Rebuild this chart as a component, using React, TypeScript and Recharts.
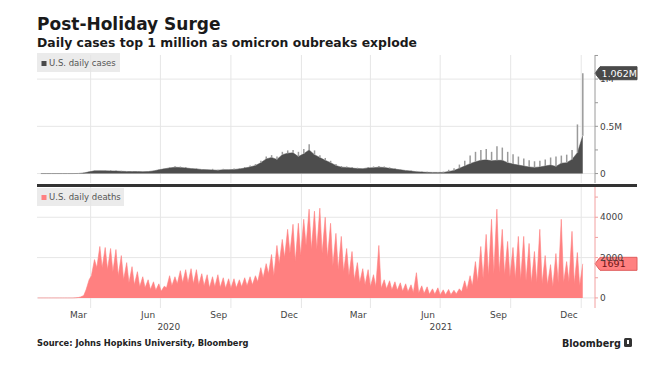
import React from 'react';
import { ComposedChart, Area, Bar, XAxis, YAxis, CartesianGrid, ReferenceLine } from 'recharts';

// x positions are days since 22 Jan 2020, the first day in the series
const START = Date.UTC(2020, 0, 22);
const dayOf = (iso: string) => Math.round((Date.parse(iso + 'T00:00:00Z') - START) / 86400000);

// one entry per week (weeks starting Wed 22 Jan 2020)
// cases in thousands: typical daily level and the week's highest day
const casesBase = [
  0, 0, 0, 0, 0, 0, 0, 1, 6, 18,
  29, 30, 29, 28, 27, 24, 22, 21, 21, 20,
  21, 28, 40, 50, 60, 67, 64, 59, 53, 49,
  43, 41, 38, 35, 41, 41, 43, 49, 58, 70,
  85, 115, 155, 170, 150, 200, 215, 220, 180, 210,
  250, 200, 170, 140, 115, 85, 68, 65, 58, 53,
  52, 60, 62, 68, 64, 55, 47, 40, 32, 26,
  20, 16, 13, 12, 12, 12, 22, 32, 55, 80,
  105, 125, 140, 145, 135, 140, 140, 115, 100, 90,
  80, 70, 65, 70, 80, 90, 75, 110, 115, 150,
  220, 400,
];
const casesPeak = [
  0, 0, 0, 0, 0, 0, 0.3, 1.5, 10, 25,
  34, 35, 36, 37, 33, 29, 27, 26, 25, 24,
  25, 33, 46, 57, 68, 77, 74, 70, 60, 56,
  48, 47, 50, 40, 50, 48, 53, 58, 70, 84,
  100, 135, 180, 195, 180, 230, 245, 250, 230, 260,
  310, 245, 195, 165, 135, 100, 80, 75, 70, 62,
  60, 70, 75, 80, 75, 65, 55, 48, 38, 32,
  28, 22, 18, 16, 17, 20, 40, 55, 95, 135,
  190, 230, 250, 260, 230, 290, 275, 230, 205, 180,
  160, 140, 130, 135, 150, 170, 180, 190, 200, 250,
  520, 1062,
];
// deaths: the week's low day and its highest day
const deathsLow = [
  0, 0, 0, 0, 0, 0, 0, 5, 50, 400,
  1100, 1500, 1500, 1400, 1300, 1100, 900, 750, 650, 550,
  500, 420, 380, 330, 500, 600, 700, 750, 750, 700,
  650, 600, 500, 550, 520, 480, 480, 500, 550, 600,
  650, 800, 1000, 1200, 1100, 1700, 2000, 2200, 1800, 2100,
  2600, 2400, 2400, 2200, 2000, 1600, 1400, 1300, 1100, 900,
  750, 650, 550, 550, 480, 450, 400, 380, 330, 300,
  260, 250, 220, 180, 180, 150, 160, 160, 200, 300,
  420, 600, 800, 950, 1100, 1200, 1250, 1150, 1050, 950,
  900, 850, 750, 750, 700, 650, 550, 750, 750, 800,
  700, 600,
];
const deathsPeak = [
  0, 0, 0, 0, 0, 0, 0, 20, 120, 900,
  1900, 2550, 2500, 2450, 2400, 2100, 1750, 1550, 1300, 1050,
  900, 800, 700, 580, 1100, 1050, 1350, 1400, 1450, 1400,
  1200, 1150, 1050, 1150, 1000, 950, 950, 900, 1000, 1050,
  1100, 1500, 1700, 2150, 2600, 2900, 3400, 3650, 3700, 3900,
  4400, 4300, 4450, 4000, 3700, 3200, 3050, 2450, 2300, 1750,
  1450, 1400, 1150, 2600, 900, 850, 800, 750, 700, 650,
  1250, 600, 550, 450, 500, 400, 420, 380, 450, 850,
  1100, 1800, 2550, 3150, 3900, 4400, 3400, 2800, 2500, 3050,
  3050, 2700, 2300, 3400, 2100, 1650, 2200, 3900, 1800, 3300,
  2250, 1691,
];

const monthTicks = ['2020-03-16', '2020-06-15', '2020-09-15', '2020-12-16', '2021-03-16', '2021-06-15', '2021-09-15', '2021-12-16'];
const monthLabels = ['Mar', 'Jun', 'Sep', 'Dec', 'Mar', 'Jun', 'Sep', 'Dec'];
const yearTicks = ['2020-07-12', '2021-07-02'];
const yearLabels = ['2020', '2021'];
const quarterLines = ['2020-04-01', '2020-07-01', '2020-10-01', '2021-01-01', '2021-04-01', '2021-07-01', '2021-10-01', '2022-01-01'];

const X_DOMAIN: [number, number] = [0, 728];
const quarterDays = quarterLines.map(dayOf);

const casesData = casesBase.map((_, w) => ({
  day: 7 * w + 5,
  casesBase: casesBase[w] * 1000,
  casesSpike: [casesBase[w] * 1000, casesPeak[w] * 1000],
}));

const deathsData = deathsPeak.flatMap((_, w) => [
  { day: 7 * w + 1, deaths: deathsLow[w] },
  { day: 7 * w + 5, deaths: deathsPeak[w] },
]);

const lastCases = casesPeak[casesPeak.length - 1] * 1000;
const lastDeaths = deathsPeak[deathsPeak.length - 1];

const FONT = '"DejaVu Sans", Verdana, sans-serif';

function Badge(props: any) {
  const { viewBox, text, bg, fg, border } = props;
  if (!viewBox) return null;
  const x = viewBox.x + viewBox.width;
  const y = viewBox.y;
  const h = 13;
  const tip = 5;
  const w = 37;
  const d = `M${x},${y} L${x + tip},${y - h / 2} L${x + tip + w},${y - h / 2} L${x + tip + w},${y + h / 2} L${x + tip},${y + h / 2} Z`;
  return (
    <g>
      <path d={d} fill={bg} stroke={border} strokeWidth={1} />
      <text x={x + tip + 1.5} y={y + 3.5} fontSize={9.5} fill={fg} fontFamily={FONT}>{text}</text>
    </g>
  );
}

const monthTick = (props: any) => (
  <text x={props.x} y={props.y + 10} textAnchor="middle" fontSize={9} fill="#444" fontFamily={FONT}>
    {monthLabels[props.index]}
  </text>
);
const yearTick = (props: any) => (
  <text x={props.x} y={props.y + 10} textAnchor="middle" fontSize={9} fill="#444" fontFamily={FONT}>
    {yearLabels[props.index]}
  </text>
);

const casesFmt = (v: number) => (v === 0 ? '0' : v === 500000 ? '0.5M' : v === 1000000 ? '1M' : '');
const deathsFmt = (v: number) => (v % 2000 === 0 ? String(v) : '');

export default function App() {
  return (
    <div style={{ position: 'absolute', left: 0, top: 0, width: 667, height: 367, background: '#fff', fontFamily: FONT }}>
      <div style={{ position: 'absolute', left: 0, top: 0 }}>
        <ComposedChart width={667} height={183} data={casesData} margin={{ top: 55, right: 0, bottom: 0, left: 37 }}>
          <CartesianGrid stroke="#e6e6e6" horizontalValues={[0, 500000, 1000000]} verticalValues={quarterDays} />
          <XAxis dataKey="day" type="number" domain={X_DOMAIN} allowDataOverflow hide />
          <YAxis
            orientation="right"
            width={72}
            domain={[-100000, 1255000]}
            allowDataOverflow
            ticks={[0, 250000, 500000, 750000, 1000000, 1250000]}
            tickFormatter={casesFmt}
            tickSize={3}
            axisLine={{ stroke: '#9a9a9a' }}
            tickLine={{ stroke: '#9a9a9a' }}
            tick={{ fontSize: 9, fill: '#444', fontFamily: FONT }}
          />
          <Bar dataKey="casesSpike" fill="#9a9a9a" barSize={1.5} isAnimationActive={false} />
          <Area type="linear" dataKey="casesBase" stroke="#4d4d4d" strokeWidth={0.5} fill="#4d4d4d" fillOpacity={1} isAnimationActive={false} />
          <ReferenceLine
            y={lastCases}
            stroke="none"
            label={(p: any) => <Badge viewBox={p.viewBox} text="1.062M" bg="#4a4a4a" fg="#fff" border="#4a4a4a" />}
          />
        </ComposedChart>
      </div>

      <div style={{ position: 'absolute', left: 0, top: 187 }}>
        <ComposedChart width={667} height={180} data={deathsData} margin={{ top: 0, right: 0, bottom: 33, left: 37 }}>
          <CartesianGrid stroke="#e6e6e6" horizontalValues={[0, 2000, 4000]} verticalValues={quarterDays} />
          <XAxis
            dataKey="day"
            type="number"
            domain={X_DOMAIN}
            allowDataOverflow
            ticks={monthTicks.map(dayOf)}
            interval={0}
            height={12}
            tickSize={0}
            tickMargin={0}
            axisLine={false}
            tickLine={false}
            tick={monthTick}
          />
          <XAxis
            xAxisId="year"
            dataKey="day"
            type="number"
            domain={X_DOMAIN}
            allowDataOverflow
            ticks={yearTicks.map(dayOf)}
            interval={0}
            height={14}
            tickSize={0}
            tickMargin={0}
            axisLine={false}
            tickLine={false}
            tick={yearTick}
          />
          <YAxis
            orientation="right"
            width={72}
            domain={[-500, 5500]}
            allowDataOverflow
            ticks={[0, 1000, 2000, 3000, 4000, 5000]}
            tickFormatter={deathsFmt}
            tickSize={3}
            axisLine={{ stroke: '#f2a0a0' }}
            tickLine={{ stroke: '#f2a0a0' }}
            tick={{ fontSize: 9, fill: '#444', fontFamily: FONT }}
          />
          <Area type="linear" dataKey="deaths" stroke="#ff8080" strokeWidth={0.6} fill="#ff8080" fillOpacity={1} isAnimationActive={false} />
          <ReferenceLine
            y={lastDeaths}
            stroke="none"
            label={(p: any) => <Badge viewBox={p.viewBox} text={String(lastDeaths)} bg="#ff8080" fg="#6e1414" border="#e05c5c" />}
          />
        </ComposedChart>
      </div>

      <svg width={667} height={367} style={{ position: 'absolute', left: 0, top: 0, pointerEvents: 'none' }} fontFamily={FONT}>
        <text x={37} y={30} fontSize={17} fontWeight="bold" fill="#1a1a1a">Post-Holiday Surge</text>
        <text x={37} y={47} fontSize={12.4} fontWeight="bold" fill="#1a1a1a">Daily cases top 1 million as omicron oubreaks explode</text>

        <rect x={37} y={53} width={83} height={19} fill="#e4e4e4" fillOpacity={0.75} />
        <rect x={41.5} y={61} width={5} height={5} fill="#4a4a4a" />
        <text x={49} y={66} fontSize={8.5} fill="#555">U.S. daily cases</text>

        <rect x={37} y={184} width={600} height={3} fill="#333" />

        <rect x={37} y={188} width={87} height={18} fill="#e4e4e4" fillOpacity={0.75} />
        <rect x={41.5} y={195} width={5} height={5} fill="#ff8080" />
        <text x={49} y={200} fontSize={8.5} fill="#555">U.S. daily deaths</text>

        <text x={37} y={346} fontSize={8.3} fontWeight="bold" fill="#222">Source: Johns Hopkins University, Bloomberg</text>
        <text x={562} y={347} fontSize={9.6} fontWeight="bold" fill="#222">Bloomberg</text>
        <rect x={624} y={338} width={8} height={9} rx={1.5} fill="#333" />
        <rect x={627} y={340} width={2} height={4} fill="#fff" />
      </svg>
    </div>
  );
}
